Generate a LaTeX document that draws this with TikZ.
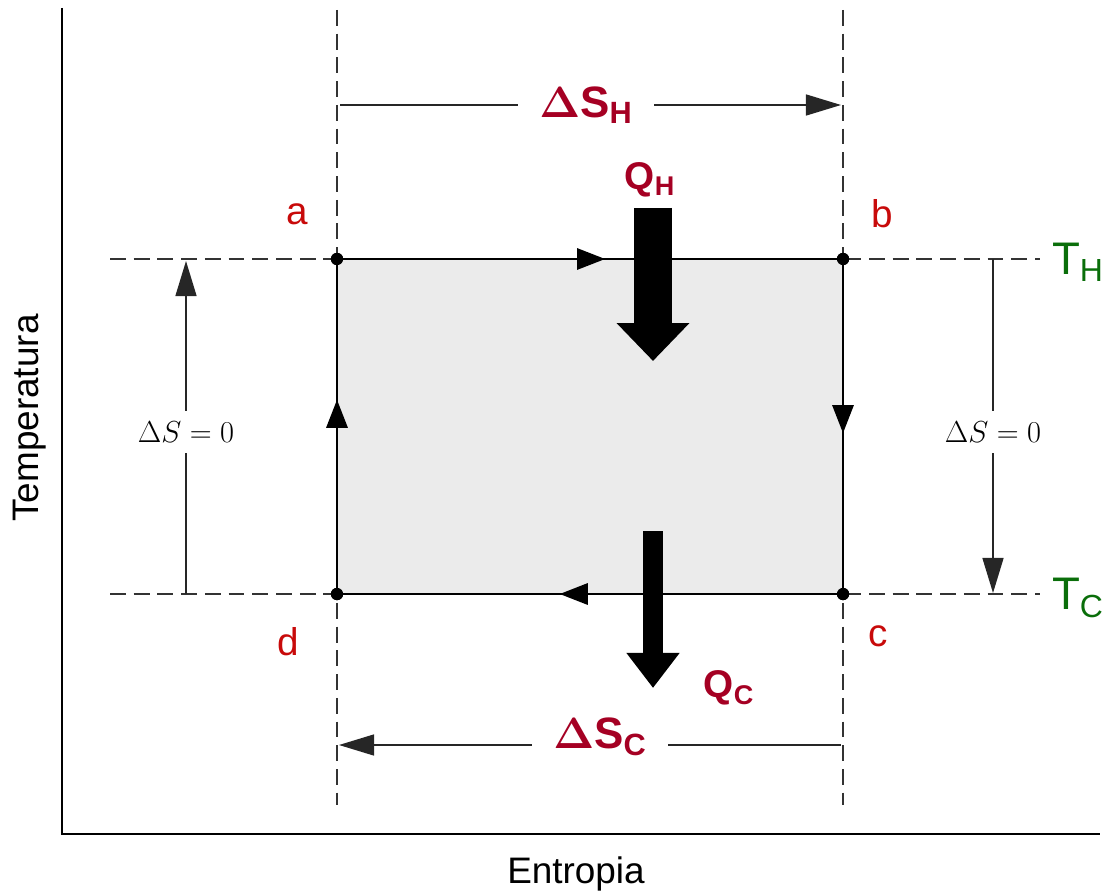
\documentclass[tikz,border=0pt]{standalone}
\usepackage{fontspec}
\setmainfont{Liberation Sans}
\usepackage{amsmath}
\usetikzlibrary{calc, positioning, arrows.meta, decorations.markings}

\definecolor{heatred}{RGB}{165,0,35}
\definecolor{cornerred}{RGB}{200,10,10}
\definecolor{tempgreen}{RGB}{10,110,10}

\begin{document}
\begin{tikzpicture}[x=0.02cm, y=-0.02cm, >=latex,
    guide/.style={black!80, line width=0.7pt, dash pattern=on 9pt off 4.5pt},
    edge/.style={black, line width=1.6pt},
    dimline/.style={black!85, line width=0.8pt},
    dimtip/.style={-{Triangle[length=20pt, width=12pt]}},
    dot/.style={circle, fill=black, inner sep=0pt, minimum size=7pt},
    midarrow/.style={postaction={decorate, decoration={markings,
        mark=at position #1 with {\arrow{Triangle[length=16pt, width=12pt]}}}}},
    heatarrow/.style={line width=#1},
    corner/.style={text=cornerred, font=\fontsize{22}{24}\selectfont},
    qlabel/.style={text=heatred, font=\fontsize{22}{24}\selectfont\bfseries},
    dslabel/.style={text=heatred, fill=white, inner xsep=12pt, inner ysep=4pt,
        font=\fontsize{25}{27}\selectfont\bfseries},
    tlabel/.style={text=tempgreen, font=\fontsize{26}{28}\selectfont},
    zerolabel/.style={fill=white, inner sep=6pt, font=\fontsize{19}{21}\selectfont},
    axislabel/.style={font=\fontsize{21}{23}\selectfont}]
    \useasboundingbox (0,0) rectangle (1105,895);

    % 1. Axes
    \coordinate (origin) at (62,834);
    \coordinate (ytop) at (62,8);
    \coordinate (xend) at (1100,834);
    \draw[line width=1.1pt] (ytop) -- (origin) -- (xend);
    \node[axislabel, rotate=90] (ylab) at (30,418) {Temperatura};
    \node[axislabel] (xlab) at (576,874) {Entropia};

    % 2. Dashed guide lines
    \coordinate (vla) at (337,10);  \coordinate (vlb) at (337,805);
    \coordinate (vra) at (843,10);  \coordinate (vrb) at (843,805);
    \coordinate (hta) at (110,259); \coordinate (htb) at (1040,259);
    \coordinate (hca) at (110,594); \coordinate (hcb) at (1040,594);
    \draw[guide] (vla) -- (vlb);
    \draw[guide] (vra) -- (vrb);
    \draw[guide] (hta) -- (htb);
    \draw[guide] (hca) -- (hcb);

    % 3. The cycle a-b-c-d
    \node[dot] (pa) at (337,259) {};
    \node[dot] (pb) at (843,259) {};
    \node[dot] (pc) at (843,594) {};
    \node[dot] (pd) at (337,594) {};
    \fill[black!8] (pa.center) rectangle (pc.center);
    \draw[edge, midarrow=0.53] (pa.center) -- (pb.center);
    \draw[edge, midarrow=0.52] (pb.center) -- (pc.center);
    \draw[edge, midarrow=0.56] (pc.center) -- (pd.center);
    \draw[edge, midarrow=0.58] (pd.center) -- (pa.center);
    \node[dot] at (pa) {};
    \node[dot] at (pb) {};
    \node[dot] at (pc) {};
    \node[dot] at (pd) {};

    \node[corner] (la) at (297,214) {a};
    \node[corner] (lb) at (882,214) {b};
    \node[corner] (lc) at (878,636) {c};
    \node[corner] (ld) at (288,642) {d};

    % 4. Heat flows
    \coordinate (qhtop) at (653,208);
    \coordinate (qhtip) at (653,361);
    \draw[heatarrow=21.5pt, -{Triangle[length=21.5pt, width=40pt]}] (qhtop) -- (qhtip);
    \node[qlabel] (qh) at (650,180) {Q\textsubscript{H}};

    \coordinate (qctop) at (653,531);
    \coordinate (qctip) at (653,688);
    \draw[heatarrow=11.5pt, -{Triangle[length=20pt, width=29pt]}] (qctop) -- (qctip);
    \node[qlabel] (qc) at (729,688) {Q\textsubscript{C}};

    % 5. Entropy changes
    \coordinate (shl) at (340,105);
    \coordinate (shr) at (841,105);
    \node[dslabel] (dsh) at (586,105) {$\boldsymbol{\Delta}$S\textsubscript{H}};
    \draw[dimline] (shl) -- (dsh.west);
    \draw[dimline, dimtip] (dsh.east) -- (shr);

    \coordinate (scl) at (339,745);
    \coordinate (scr) at (841,745);
    \node[dslabel] (dsc) at (600,737) {$\boldsymbol{\Delta}$S\textsubscript{C}};
    \draw[dimline] (scr) -- (dsc.east |- scr);
    \draw[dimline, dimtip] (dsc.west |- scl) -- (scl);

    % 6. Isentropic steps
    \coordinate (zlb) at (186,594);
    \coordinate (zlt) at (186,261);
    \node[zerolabel] (zl) at (186,432) {$\Delta S = 0$};
    \draw[dimline] (zlb) -- (zl.south);
    \draw[dimline, dimtip] (zl.north) -- (zlt);

    \coordinate (zrt) at (993,259);
    \coordinate (zrb) at (993,593);
    \node[zerolabel] (zr) at (993,432) {$\Delta S = 0$};
    \draw[dimline] (zrt) -- (zr.north);
    \draw[dimline, dimtip] (zr.south) -- (zrb);

    % 7. Reservoir temperatures
    \node[tlabel] (th) at (1078,262) {T\textsubscript{H}};
    \node[tlabel] (tc) at (1078,598) {T\textsubscript{C}};

\end{tikzpicture}
\end{document}
